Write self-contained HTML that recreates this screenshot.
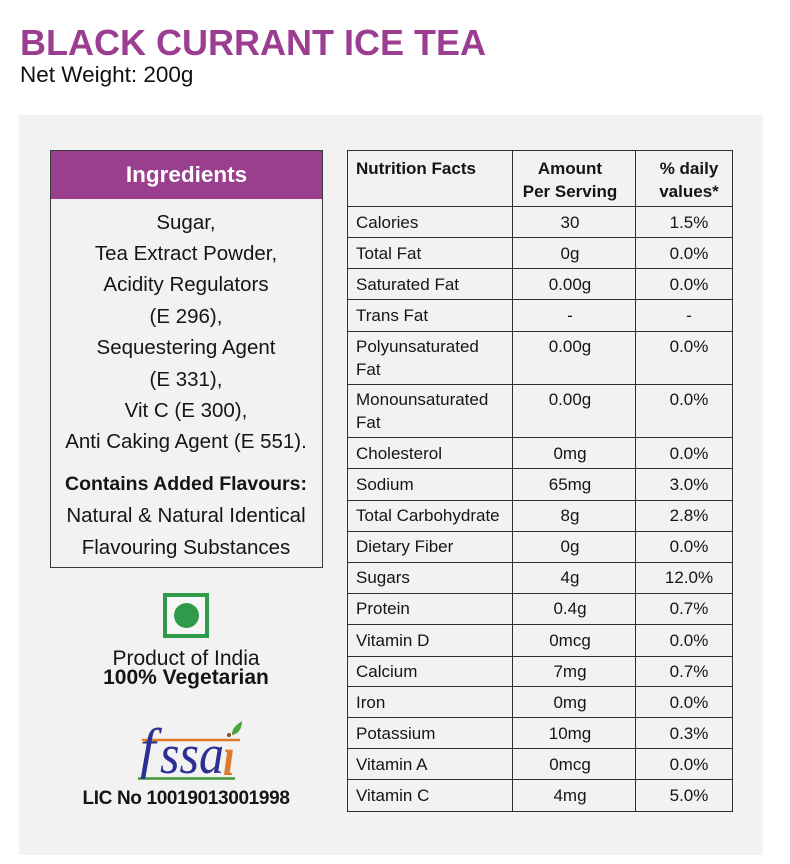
<!DOCTYPE html>
<html><head><meta charset="utf-8"><style>
*{margin:0;padding:0;box-sizing:border-box}
body{width:790px;height:864px;background:#fff;position:relative;overflow:hidden;font-family:"Liberation Sans",Arial,sans-serif;color:#151515}
.a{position:absolute;white-space:nowrap}
.h{position:absolute;left:347px;width:386px;height:1px;background:#2e2e2e}
.v{position:absolute;top:150px;height:662px;width:1px;background:#2e2e2e}
.l{position:absolute;left:356px;font-size:17px;line-height:23px;white-space:nowrap}
.m{position:absolute;left:512px;width:116px;text-align:center;font-size:17px;line-height:23px}
.p{position:absolute;left:646px;width:86px;text-align:center;font-size:17px;line-height:23px}
.ing{position:absolute;left:51px;width:270px;text-align:center;font-size:20.5px;line-height:31.4px}
</style></head><body>
<div class="a" style="left:20px;top:24.5px;font-size:36px;line-height:36px;font-weight:bold;color:#9b3d91">BLACK CURRANT ICE TEA</div>
<div class="a" style="left:20px;top:64px;font-size:22.5px;line-height:22.5px;color:#111">Net Weight: 200g</div>

<div class="a" style="left:19px;top:115px;width:744px;height:740px;background:#f2f2f2"></div>

<!-- Ingredients box -->
<div class="a" style="left:50px;top:150px;width:273px;height:418px;border:1px solid #3a3a3a;background:#f2f2f2"></div>
<div class="a" style="left:51px;top:151px;width:271px;height:48px;background:#9a3f8d;color:#fff;font-weight:bold;font-size:22.5px;line-height:48px;text-align:center">Ingredients</div>
<div class="ing" style="top:206.5px">Sugar,<br>Tea Extract Powder,<br>Acidity Regulators<br>(E 296),<br>Sequestering Agent<br>(E 331),<br>Vit C (E 300),<br>Anti Caking Agent (E 551).</div>
<div class="ing" style="top:467.5px;line-height:31.5px"><b style="font-size:19.5px">Contains Added Flavours:</b><br>Natural &amp; Natural Identical<br>Flavouring Substances</div>

<!-- Veg mark -->
<div class="a" style="left:163px;top:593px;width:46px;height:45px;border:4px solid #2e9a4a;background:#f6f6f6"></div>
<div class="a" style="left:174px;top:603px;width:25px;height:25px;border-radius:50%;background:#2e9a4a"></div>
<div class="a" style="left:50px;width:272px;text-align:center;top:647.5px;font-size:21px;line-height:21px">Product of India</div>
<div class="a" style="left:50px;width:272px;text-align:center;top:667px;font-size:21px;line-height:21px;font-weight:bold">100% Vegetarian</div>

<!-- FSSAI -->
<svg class="a" style="left:120px;top:715px" width="130" height="70" viewBox="0 0 130 70">
<line x1="22" y1="25" x2="120" y2="25" stroke="#e07b2c" stroke-width="2.5"/>
<line x1="18" y1="63.5" x2="115" y2="63.5" stroke="#3d9a3a" stroke-width="2.5"/>
<text x="20" y="52" font-family="Liberation Serif,serif" font-style="italic" font-size="56" fill="#2b3192">f</text>
<text transform="translate(40,58) scale(1,1.4)" font-family="Liberation Serif,serif" font-style="italic" font-size="40" fill="#2b3192" textLength="64" lengthAdjust="spacingAndGlyphs">ssa</text>
<text transform="translate(103,60) scale(1,1.3)" font-family="Liberation Serif,serif" font-style="italic" font-weight="bold" font-size="42" fill="#e07b2c">ı</text>
<circle cx="109" cy="20" r="2" fill="#8a4a2a"/>
<path d="M112 20 C112 12 118 9 122 6 C122 13 119 19 112 20 Z" fill="#4aa53a"/>
</svg>
<div class="a" style="left:50px;width:272px;text-align:center;top:789px;font-size:19px;line-height:19px;font-weight:bold;letter-spacing:-0.35px">LIC No 10019013001998</div>

<!-- Nutrition table lines -->
<div class="h" style="top:150px"></div>
<div class="h" style="top:206px"></div>
<div class="h" style="top:237px"></div>
<div class="h" style="top:268px"></div>
<div class="h" style="top:299px"></div>
<div class="h" style="top:331px"></div>
<div class="h" style="top:384px"></div>
<div class="h" style="top:437px"></div>
<div class="h" style="top:468px"></div>
<div class="h" style="top:500px"></div>
<div class="h" style="top:531px"></div>
<div class="h" style="top:562px"></div>
<div class="h" style="top:593px"></div>
<div class="h" style="top:624px"></div>
<div class="h" style="top:656px"></div>
<div class="h" style="top:686px"></div>
<div class="h" style="top:717px"></div>
<div class="h" style="top:748px"></div>
<div class="h" style="top:779px"></div>
<div class="h" style="top:811px"></div>
<div class="v" style="left:347px"></div>
<div class="v" style="left:512px"></div>
<div class="v" style="left:635px"></div>
<div class="v" style="left:732px"></div>

<!-- header -->
<div class="l" style="top:156.5px;font-weight:bold">Nutrition Facts</div>
<div class="m" style="top:156.5px;font-weight:bold">Amount<br>Per Serving</div>
<div class="p" style="top:156.5px;font-weight:bold">% daily<br>values*</div>

<div class="l" style="top:210.5px">Calories</div><div class="m" style="top:210.5px">30</div><div class="p" style="top:210.5px">1.5%</div>
<div class="l" style="top:241.5px">Total Fat</div><div class="m" style="top:241.5px">0g</div><div class="p" style="top:241.5px">0.0%</div>
<div class="l" style="top:272.5px">Saturated Fat</div><div class="m" style="top:272.5px">0.00g</div><div class="p" style="top:272.5px">0.0%</div>
<div class="l" style="top:303.5px">Trans Fat</div><div class="m" style="top:303.5px">-</div><div class="p" style="top:303.5px">-</div>
<div class="l" style="top:334.5px">Polyunsaturated<br>Fat</div><div class="m" style="top:334.5px">0.00g</div><div class="p" style="top:334.5px">0.0%</div>
<div class="l" style="top:388px">Monounsaturated<br>Fat</div><div class="m" style="top:388px">0.00g</div><div class="p" style="top:388px">0.0%</div>
<div class="l" style="top:441.5px">Cholesterol</div><div class="m" style="top:441.5px">0mg</div><div class="p" style="top:441.5px">0.0%</div>
<div class="l" style="top:473px">Sodium</div><div class="m" style="top:473px">65mg</div><div class="p" style="top:473px">3.0%</div>
<div class="l" style="top:504px">Total Carbohydrate</div><div class="m" style="top:504px">8g</div><div class="p" style="top:504px">2.8%</div>
<div class="l" style="top:535px">Dietary Fiber</div><div class="m" style="top:535px">0g</div><div class="p" style="top:535px">0.0%</div>
<div class="l" style="top:566px">Sugars</div><div class="m" style="top:566px">4g</div><div class="p" style="top:566px">12.0%</div>
<div class="l" style="top:597px">Protein</div><div class="m" style="top:597px">0.4g</div><div class="p" style="top:597px">0.7%</div>
<div class="l" style="top:628.5px">Vitamin D</div><div class="m" style="top:628.5px">0mcg</div><div class="p" style="top:628.5px">0.0%</div>
<div class="l" style="top:659.5px">Calcium</div><div class="m" style="top:659.5px">7mg</div><div class="p" style="top:659.5px">0.7%</div>
<div class="l" style="top:690.5px">Iron</div><div class="m" style="top:690.5px">0mg</div><div class="p" style="top:690.5px">0.0%</div>
<div class="l" style="top:721.5px">Potassium</div><div class="m" style="top:721.5px">10mg</div><div class="p" style="top:721.5px">0.3%</div>
<div class="l" style="top:752.5px">Vitamin A</div><div class="m" style="top:752.5px">0mcg</div><div class="p" style="top:752.5px">0.0%</div>
<div class="l" style="top:783.5px">Vitamin C</div><div class="m" style="top:783.5px">4mg</div><div class="p" style="top:783.5px">5.0%</div>
</body></html>
